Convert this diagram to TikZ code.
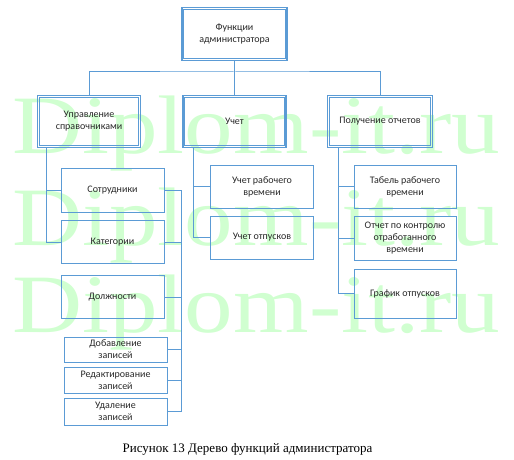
\documentclass[tikz,border=0pt]{standalone}
\usepackage{fontspec}
\setmainfont{Carlito}
\newfontfamily\capfont{Liberation Serif}
\usetikzlibrary{shadows}
\definecolor{lineblue}{RGB}{91,155,213}
\definecolor{wmgreen}{RGB}{208,255,208}
\definecolor{txt}{RGB}{40,40,40}
\begin{document}
\begin{tikzpicture}[x=1pt,y=-1pt,
  box/.style={draw=lineblue, line width=0.9pt, align=center, inner sep=1pt,
    font=\fontsize{10}{12}\selectfont, text=txt},
  mainbox/.style={box, line width=1.6pt},
  inner/.style={draw=lineblue, line width=0.7pt},
  conn/.style={draw=lineblue, line width=1pt},
  wm/.style={text=wmgreen, font=\capfont\fontsize{83}{83}\selectfont,
    anchor=base west, inner sep=0pt, xscale=1.17}]
\useasboundingbox (0,0) rectangle (514,460);

% watermark
\node[wm] (w1) at (12,153) {Diplom-it.ru};
\node[wm] (w2) at (12,245) {Diplom-it.ru};
\node[wm] (w3) at (12,332) {Diplom-it.ru};

% top
\node[mainbox, fill=white, minimum width=105, minimum height=53,
  drop shadow={shadow xshift=1pt, shadow yshift=-1pt, fill=black!30, opacity=0.5}]
  (top) at (234.5,34) {Функции\\администратора};

% level 1
\node[mainbox, minimum width=103, minimum height=52] (upr) at (89,121.5) {Управление\\справочниками};
\node[mainbox, minimum width=103, minimum height=52] (uchet) at (234.5,121.5) {Учет};
\node[mainbox, minimum width=105, minimum height=52] (poluch) at (380,121.5) {Получение отчетов};
\foreach \n in {top,upr,uchet,poluch}
  \draw[inner] ([xshift=2.6pt,yshift=2.6pt]\n.south west) rectangle ([xshift=-2.6pt,yshift=-2.6pt]\n.north east);

% left column
\node[box, minimum width=103, minimum height=44] (sotr) at (112.5,190) {Сотрудники};
\node[box, minimum width=103, minimum height=43] (kateg) at (112.5,242) {Категории};
\node[box, minimum width=103, minimum height=43] (dolzh) at (112.5,297) {Должности};
\node[box, minimum width=103, minimum height=25] (dob) at (115.5,349.5) {Добавление\\записей};
\node[box, minimum width=103, minimum height=26] (red) at (115.5,380) {Редактирование\\записей};
\node[box, minimum width=103, minimum height=27] (udal) at (115.5,411.5) {Удаление\\записей};

% middle column
\node[box, minimum width=103, minimum height=43] (uchrab) at (262,186.5) {Учет рабочего\\времени};
\node[box, minimum width=103, minimum height=43] (otp) at (262,237.5) {Учет отпусков};

% right column
\node[box, minimum width=102, minimum height=43] (tabel) at (405,186.5) {Табель рабочего\\времени};
\node[box, minimum width=102, minimum height=44] (otchet) at (405,238) {Отчет по контролю\\отработанного\\времени};
\node[box, minimum width=102, minimum height=49] (grafik) at (405,293.5) {График отпусков};

% connectors level 0-1
\coordinate (bus) at (234.5,72);
\draw[conn] (top.south) -- (uchet.north);
\draw[conn] (upr.north) |- (bus) -| (poluch.north);

% left spine
\draw[conn] ([xshift=10pt]upr.south west) |- (sotr.west);
\draw[conn] ([xshift=10pt]upr.south west) |- (kateg.west);

% right spine of left column
\coordinate (rs) at (181,0);
\draw[conn] (sotr.east) -- (sotr.east -| rs) |- (udal.east);
\draw[conn] (kateg.east) -- (kateg.east -| rs);
\draw[conn] (dolzh.east) -- (dolzh.east -| rs);
\draw[conn] (dob.east) -- (dob.east -| rs);
\draw[conn] (red.east) -- (red.east -| rs);

% middle spine
\draw[conn] ([xshift=11pt]uchet.south west) |- (uchrab.west);
\draw[conn] ([xshift=11pt]uchet.south west) |- (otp.west);

% right spine
\draw[conn] ([xshift=12pt]poluch.south west) |- (tabel.west);
\draw[conn] ([xshift=12pt]poluch.south west) |- (otchet.west);
\draw[conn] ([xshift=12pt]poluch.south west) |- (grafik.west);

% caption
\node[font=\capfont\fontsize{13}{15}\selectfont, anchor=base, inner sep=0pt] (cap) at (247.5,452)
  {Рисунок 13 Дерево функций администратора};
\end{tikzpicture}
\end{document}
